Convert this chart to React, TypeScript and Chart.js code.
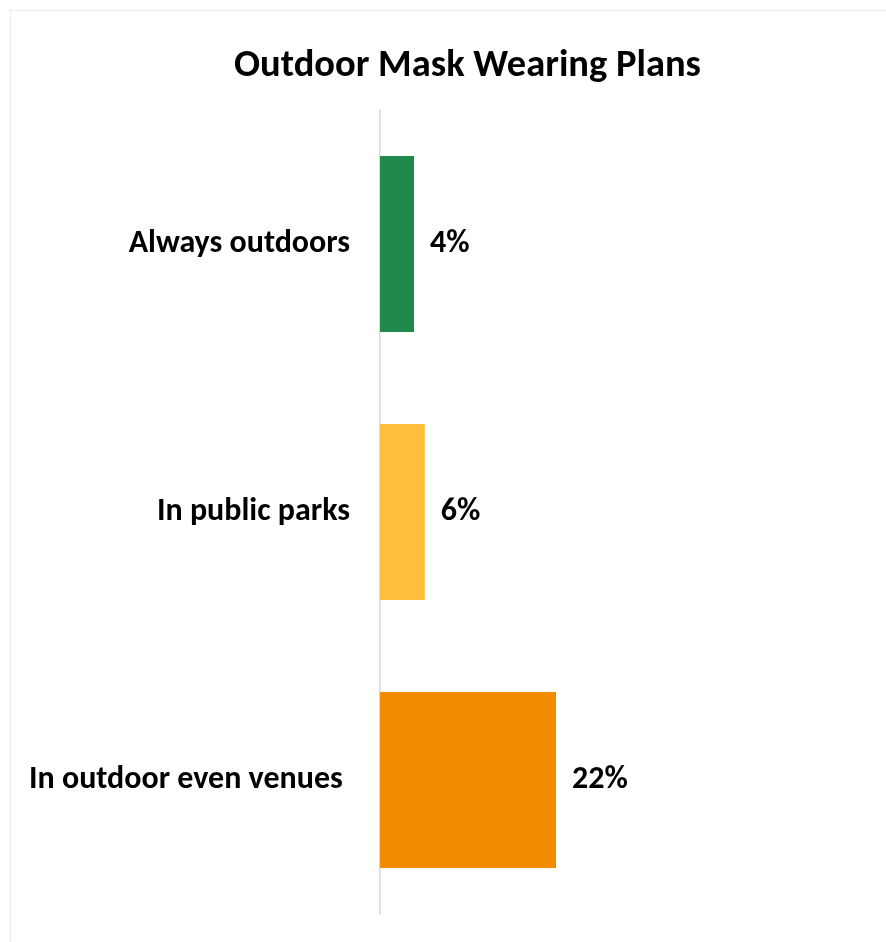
import React, { useEffect, useRef } from "react";
import { Chart, registerables } from "chart.js";

Chart.register(...registerables);

const categories = ["Always outdoors", "In public parks", "In outdoor even venues"];
const values = [4.25, 5.6, 22];
const valueLabels = ["4%", "6%", "22%"];
const barColors = ["#208a4c", "#ffbe3c", "#f28b00"];
const titleText = "Outdoor Mask Wearing Plans";

const FONT = "Carlito, 'Open Sans', sans-serif";

const valueLabelPlugin = {
  id: "valueLabels",
  afterDatasetsDraw(chart: any) {
    const ctx = chart.ctx;
    const meta = chart.getDatasetMeta(0);
    ctx.save();
    ctx.font = `bold 32px ${FONT}`;
    ctx.fillStyle = "#000";
    ctx.textAlign = "left";
    ctx.textBaseline = "middle";
    meta.data.forEach((bar: any, i: number) => {
      ctx.fillText(valueLabels[i], bar.x + 16, bar.y);
    });
    ctx.restore();
  },
};

export default function App() {
  const ref = useRef<HTMLCanvasElement>(null);
  useEffect(() => {
    if (!ref.current) return;
    const chart = new Chart(ref.current, {
      type: "bar",
      data: {
        labels: categories,
        datasets: [
          {
            data: values,
            backgroundColor: barColors,
            barPercentage: 0.657,
            categoryPercentage: 1,
          },
        ],
      },
      options: {
        indexAxis: "y",
        animation: false,
        responsive: false,
        maintainAspectRatio: false,
        layout: { padding: { left: 0, right: 0, top: 0, bottom: 29 } },
        plugins: {
          legend: { display: false },
          tooltip: { enabled: false },
          title: {
            display: true,
            text: titleText,
            color: "#000",
            font: { family: FONT, size: 38.5, weight: "bold" },
            padding: { top: 32, bottom: 20.8 },
          },
        },
        scales: {
          x: { display: false, min: 0, max: 68 },
          y: {
            afterFit(scale: any) {
              scale.width = 369;
              scale.paddingTop = 0;
              scale.paddingBottom = 0;
            },
            grid: { display: false, drawTicks: false, tickLength: 0 },
            border: { display: true, color: "#d9d9d9", width: 1.5 },
            ticks: {
              color: "#000",
              padding: 30,
              font: { family: FONT, size: 32, weight: "bold" },
              callback: (_v: any, i: number) =>
                i === categories.length - 1 ? categories[i] + " " : categories[i],
            },
          },
        },
      },
      plugins: [valueLabelPlugin],
    });
    return () => chart.destroy();
  }, []);
  return (
    <div
      style={{
        position: "absolute",
        left: 10,
        top: 10,
        width: 876,
        height: 932,
        overflow: "hidden",
        borderLeft: "1px solid #ebebeb",
        borderTop: "1px solid #ebebeb",
        background: "#fff",
      }}
    >
      <canvas ref={ref} width={913} height={932} style={{ display: "block" }} />
    </div>
  );
}
